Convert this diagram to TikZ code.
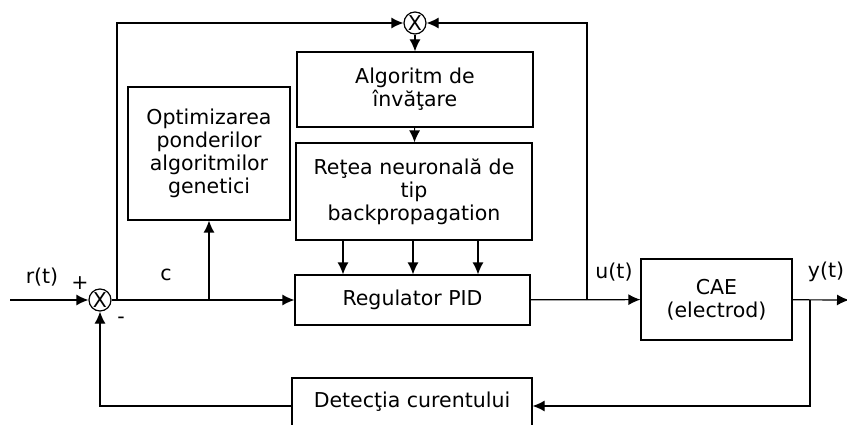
\documentclass[tikz,border=0pt]{standalone}
\usepackage{fontspec}
\setmainfont{DejaVu Sans}
\usepackage{tikz}
\usetikzlibrary{positioning}
\usetikzlibrary{calc,arrows.meta}

\begin{document}
\begin{tikzpicture}
	[   x=1pt,y=-1pt,line width=1.2pt,
	    bnode/.style={draw=black,fill=white,align=center,inner sep=0pt,minimum width=#1},
	    snode/.style={draw=black,circle,minimum size=22pt,inner sep=0pt},
	    font=\fontsize{20.5}{23}\selectfont,
	]
	\tikzset{normal arrow/.style={draw,-{Latex[length=12pt,width=11pt]}}}
	\useasboundingbox (0,0) rectangle (847,425);
	
	\node[snode] (sum-1) at (100,300) {X};
	\node[snode] (sum-2) at (415,23) {X};
	
	\node[bnode=162pt,minimum height=133pt] (opt) at (209,153.5) {Optimizarea\\ponderilor\\algoritmilor\\genetici};
	\node[bnode=236pt,minimum height=75pt] (alg) at (415,89.5) {Algoritm de\\învăţare};
	\node[bnode=236pt,minimum height=97pt] (ret) at (414,191.5) {Reţea neuronală de\\tip\\backpropagation};
	\node[bnode=235pt,minimum height=50pt] (pid) at (412.5,300) {Regulator PID};
	\node[bnode=151pt,minimum height=81pt] (cae) at (716.5,299.5) {CAE\\(electrod)};
	\node[bnode=240pt,minimum height=56pt,text depth=12pt] (det) at (412,406) {Detecţia curentului};
	
	\coordinate (in) at (10,300);
	\coordinate (out) at (849,300);
	\coordinate (x-1) at (117,300);
	\coordinate (x-2) at (209,300);
	\coordinate (x-3) at (587,300);
	\coordinate (x-4) at (810,300);
	
	% semnale
	\node at (42,277) {r(t)};
	\node at (80,283) {+};
	\node at (121,320) {-};
	\node at (166,275) {c};
	\node at (614,272) {u(t)};
	\node at (826,272) {y(t)};
	
	\path[normal arrow] (in) -- (sum-1);
	\path[normal arrow] (sum-1) -- (pid);
	\path[normal arrow] (x-1) |- (sum-2);
	\path[normal arrow] (x-2) -- (opt);
	\path[normal arrow] (sum-2) -- (alg);
	\path[normal arrow] (alg) -- (ret);
	\foreach \x in {343,413,478}
	{
		\path[normal arrow] (ret.south -| \x,0) -- (pid.north -| \x,0);
	}
	\path[normal arrow] (pid) -- (cae);
	\path[normal arrow] (x-3) |- (sum-2);
	\path[normal arrow] (cae) -- (out);
	\path[normal arrow] (x-4) |- (det);
	\path[normal arrow] (det) -| (sum-1);
\end{tikzpicture}
\end{document}
